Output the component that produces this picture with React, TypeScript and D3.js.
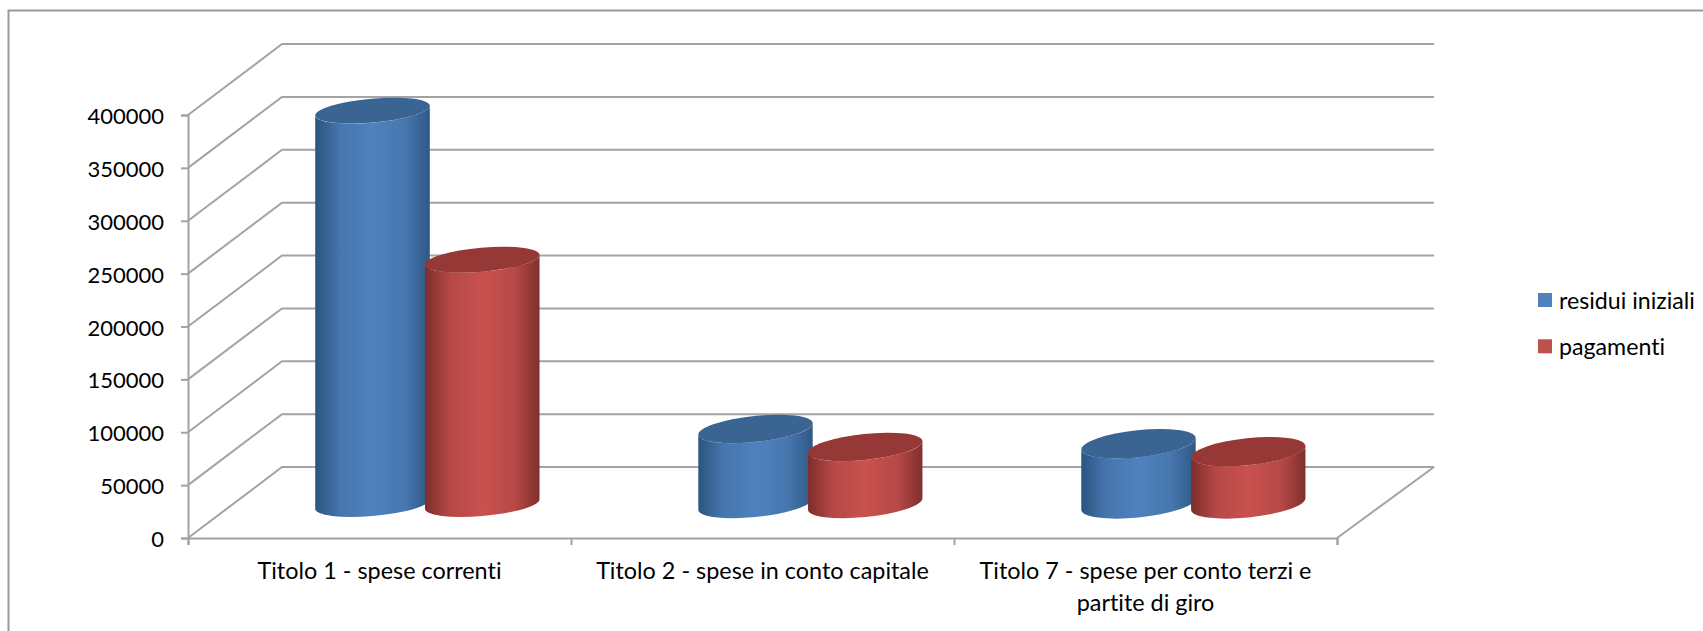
import { useRef, useEffect } from "react";
import * as d3 from "d3";

const categories = [
  "Titolo 1 - spese correnti",
  "Titolo 2 - spese in conto capitale",
  "Titolo 7 - spese per conto terzi e partite di giro",
];
const seriesNames = ["residui iniziali", "pagamenti"];
const residuiIniziali = [372000, 71000, 57000];
const pagamenti = [231000, 54000, 49500];
const yTicks = [0, 50000, 100000, 150000, 200000, 250000, 300000, 350000, 400000];

const WIDTH = 1703;
const HEIGHT = 631;
const FONT = "Lato, 'Open Sans', sans-serif";
const GRID = "#a3a3a3";

// cylinder look per category: the further right the more tilted
const tilts = [-5, -6, -6];
const radiiY = [12, 13, 13.5];

const palette = [
  { edgeL: "#2b5480", mid: "#4f81bd", edgeR: "#2f5885", top: "#3a6593", flat: "#4f81bd", id: "blue" },
  { edgeL: "#7c2e2c", mid: "#c9514e", edgeR: "#7f302e", top: "#963836", flat: "#c0504d", id: "red" },
];

function wrap(label: string, maxChars: number) {
  const lines: string[] = [];
  let cur = "";
  for (const w of label.split(" ")) {
    if (cur && (cur + " " + w).length > maxChars) {
      lines.push(cur);
      cur = w;
    } else cur = cur ? cur + " " + w : w;
  }
  lines.push(cur);
  return lines;
}

export default function App() {
  const svgRef = useRef<SVGSVGElement>(null);

  useEffect(() => {
    if (!svgRef.current) return;
    const svg = d3.select(svgRef.current);
    svg.selectAll("*").remove();

    const x = d3.scaleBand().domain(categories).range([188, 1337]).paddingInner(0).paddingOuter(0);
    const y = d3.scaleLinear().domain([0, 400000]).range([538, 115]);
    const series = d3.scaleBand().domain(seriesNames).range([127, 127 + 219.5]).paddingInner(0);

    const depthLeft = 94, depthRight = 97, rise = 71;
    const baseLift = 34;
    const rx = 57.5;

    // outer frame, runs off the right and bottom of the picture
    svg.append("path")
      .attr("d", `M${WIDTH + 5},10.5H8.5V${HEIGHT + 5}`)
      .attr("fill", "none").attr("stroke", "#999").attr("stroke-width", 2);

    const defs = svg.append("defs");
    palette.forEach(p => {
      const g = defs.append("linearGradient").attr("id", `cyl-${p.id}`)
        .attr("x1", "0%").attr("x2", "100%").attr("y1", "0%").attr("y2", "0%");
      g.append("stop").attr("offset", "0%").attr("stop-color", p.edgeL);
      g.append("stop").attr("offset", "22%").attr("stop-color", d3.interpolateRgb(p.edgeL, p.mid)(0.75));
      g.append("stop").attr("offset", "50%").attr("stop-color", p.mid);
      g.append("stop").attr("offset", "78%").attr("stop-color", d3.interpolateRgb(p.edgeR, p.mid)(0.75));
      g.append("stop").attr("offset", "100%").attr("stop-color", p.edgeR);
    });

    // Walls and floor
    const walls = svg.append("g").attr("fill", "none").attr("stroke", GRID).attr("stroke-width", 2);
    yTicks.forEach(t => {
      const py = y(t);
      walls.append("path").attr("d",
        `M188,${py}L${188 + depthLeft},${py - rise}H${1337 + depthRight}`);
    });
    walls.append("path").attr("d", `M1337,${y(0)}L${1337 + depthRight},${y(0) - rise}`);

    // Axes
    const yAxis = svg.append("g").attr("transform", "translate(188,0)")
      .call(d3.axisLeft(y).tickValues(yTicks).tickSize(7).tickPadding(17).tickFormat(d3.format("d")));
    yAxis.selectAll("line").attr("stroke", GRID).attr("stroke-width", 2);
    yAxis.selectAll(".domain").attr("stroke", GRID).attr("stroke-width", 2);
    yAxis.selectAll("text").attr("fill", "#000").attr("font-size", 22).attr("font-family", FONT).attr("dy", 8.5);

    const xEdges = [...categories.map(c => x(c) as number), 1337];
    const xAxis = svg.append("g").attr("transform", `translate(0,${y(0)})`)
      .call(d3.axisBottom(d3.scaleLinear().domain([188, 1337]).range([188, 1337]))
        .tickValues(xEdges).tickSize(7).tickFormat(() => ""));
    xAxis.selectAll("line").attr("stroke", GRID).attr("stroke-width", 2);
    xAxis.selectAll(".domain").attr("stroke", GRID).attr("stroke-width", 2);

    categories.forEach(c => {
      const cx = (x(c) as number) + x.bandwidth() / 2;
      wrap(c, 36).forEach((line, i) => {
        svg.append("text").attr("x", cx).attr("y", 579 + i * 32)
          .attr("text-anchor", "middle").attr("font-size", 23.4).attr("font-family", FONT)
          .style("font-variant-ligatures", "none")
          .attr("fill", "#000").text(line);
      });
    });

    // Cylinders
    [residuiIniziali, pagamenti].forEach((values, s) => {
      const p = palette[s];
      values.forEach((v, i) => {
        const left = (x(categories[i]) as number) + (series(seriesNames[s]) as number);
        const cx = left + rx;
        const deg = tilts[i];
        const ry = radiiY[i];
        const th = (deg * Math.PI) / 180;
        // tangent points of the tilted ellipse, where the sides of the body start
        const t = Math.atan2(-ry * Math.sin(th), rx * Math.cos(th));
        const ox = rx * Math.cos(t) * Math.cos(th) - ry * Math.sin(t) * Math.sin(th);
        const oy = rx * Math.cos(t) * Math.sin(th) + ry * Math.sin(t) * Math.cos(th);
        const yBase = y(0) - baseLift;
        const yTop = y(v) - baseLift;
        const arc = `A${rx},${ry} ${deg} 0 `;
        svg.append("path")
          .attr("d",
            `M${cx - ox},${yTop - oy}L${cx - ox},${yBase - oy}` +
            `${arc}0 ${cx + ox},${yBase + oy}L${cx + ox},${yTop + oy}` +
            `${arc}1 ${cx - ox},${yTop - oy}Z`)
          .attr("fill", `url(#cyl-${p.id})`);
        svg.append("ellipse")
          .attr("cx", 0).attr("cy", 0).attr("rx", rx).attr("ry", ry)
          .attr("transform", `translate(${cx},${yTop}) rotate(${deg})`)
          .attr("fill", p.top);
      });
    });

    // Legend
    seriesNames.forEach((name, i) => {
      const ly = 293 + i * 46.3;
      svg.append("rect").attr("x", 1538).attr("y", ly).attr("width", 14).attr("height", 14)
        .attr("fill", palette[i].flat);
      svg.append("text").attr("x", 1559).attr("y", ly + 15.5)
        .attr("font-size", 23.2).attr("font-family", FONT)
        .style("font-variant-ligatures", "none")
        .attr("fill", "#000").text(name);
    });
  }, []);

  return (
    <svg ref={svgRef} width={WIDTH} height={HEIGHT}
      style={{ position: "absolute", left: 0, top: 0, background: "#fff" }} />
  );
}
